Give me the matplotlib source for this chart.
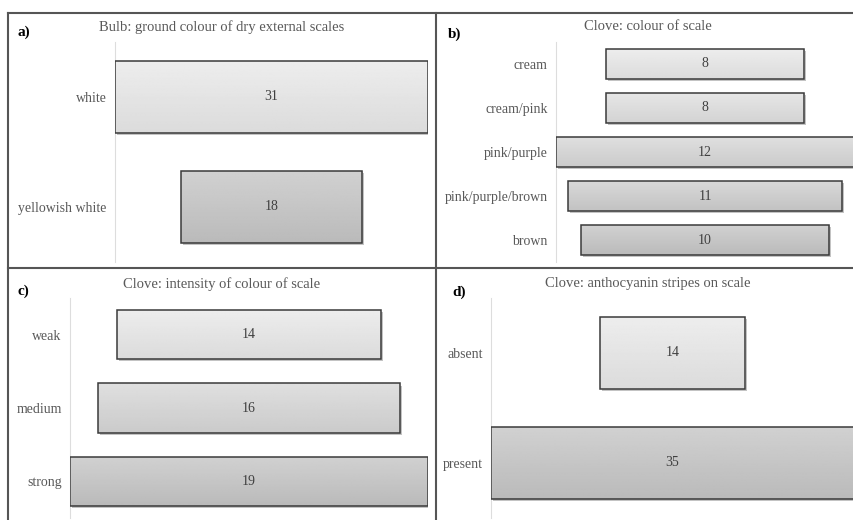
import numpy as np
import matplotlib
matplotlib.use("Agg")
import matplotlib.pyplot as plt
import matplotlib.patheffects as pe
from matplotlib.lines import Line2D

plt.rcParams['font.family'] = ['Liberation Serif', 'DejaVu Serif']

# data
a_labels = ['white', 'yellowish white']
a_values = [31, 18]
b_labels = ['cream', 'cream/pink', 'pink/purple', 'pink/purple/brown', 'brown']
b_values = [8, 8, 12, 11, 10]
c_labels = ['weak', 'medium', 'strong']
c_values = [14, 16, 19]
d_labels = ['absent', 'present']
d_values = [14, 35]

W, H = 854, 520


def box(x0, y0, x1, y1):
    # pixel box (top-left origin) -> figure fraction rect
    return [x0 / W, 1 - y1 / H, (x1 - x0) / W, (y1 - y0) / H]


def funnel(ax, labels, values, height):
    n = len(values)
    y = np.arange(n)
    vmax = max(values)
    lefts = [-v / 2 for v in values]
    bars = ax.barh(y, values, left=lefts, height=height, color='#d0d0d0',
                   edgecolor='none', zorder=1,
                   path_effects=[pe.SimplePatchShadow(offset=(1.5, -1.5), shadow_rgbFace='#888888', alpha=0.5),
                                 pe.Normal()])
    for i, (bar, v) in enumerate(zip(bars, values)):
        t = i / max(n - 1, 1)
        top = 0.93 - 0.11 * t
        bot = 0.86 - 0.13 * t
        grad = np.linspace(top, bot, 64).reshape(-1, 1)
        x0 = bar.get_x()
        y0 = bar.get_y()
        im = ax.imshow(grad, cmap='gray', vmin=0, vmax=1, aspect='auto',
                       extent=[x0, x0 + bar.get_width(), y0 + bar.get_height(), y0],
                       zorder=2, interpolation='bilinear')
        im.set_clip_path(bar)
        ax.text(0, i, str(v), ha='center', va='center', fontsize=10, color='#404040', zorder=4)
    ax.barh(y, values, left=lefts, height=height, fill=False, edgecolor='#3a3a3a',
            linewidth=1.1, zorder=3)
    ax.set_xlim(-vmax / 2, vmax / 2)
    ax.set_ylim(n - 0.5, -0.5)
    ax.set_yticks(y)
    ax.set_yticklabels(labels, fontsize=10, color='#595959')
    ax.tick_params(axis='y', length=0, pad=6)
    ax.set_xticks([])
    for s in ['top', 'right', 'bottom']:
        ax.spines[s].set_visible(False)
    ax.spines['left'].set_color('#dddddd')
    ax.spines['left'].set_linewidth(0.8)


fig = plt.figure(figsize=(W / 100, H / 100), dpi=100)

ax_a = fig.add_axes(box(115, 42, 428, 262))
funnel(ax_a, a_labels, a_values, 0.66)
ax_b = fig.add_axes(box(556, 42, 854, 262))
funnel(ax_b, b_labels, b_values, 0.68)
ax_c = fig.add_axes(box(70, 298, 428, 518))
funnel(ax_c, c_labels, c_values, 0.67)
ax_d = fig.add_axes(box(491, 298, 854, 518))
funnel(ax_d, d_labels, d_values, 0.66)

titles = ['Bulb: ground colour of dry external scales', 'Clove: colour of scale',
          'Clove: intensity of colour of scale', 'Clove: anthocyanin stripes on scale']
title_pos = [(222, 27), (648, 27), (222, 284), (648, 284)]
letters = ['a)', 'b)', 'c)', 'd)']
letter_pos = [(17, 32), (448, 34), (17, 291), (452, 292)]
for t, (x, y) in zip(titles, title_pos):
    fig.text(x / W, 1 - y / H, t, ha='center', va='center', fontsize=10.5, color='#595959')
for t, (x, y) in zip(letters, letter_pos):
    fig.text(x / W, 1 - y / H, t, ha='left', va='center', fontsize=11, fontweight='bold', color='black')

# frame lines
frame = dict(color='#555555', linewidth=1.5, transform=fig.transFigure)
fig.add_artist(Line2D([8 / W, 1], [1 - 13 / H, 1 - 13 / H], **frame))
fig.add_artist(Line2D([8 / W, 8 / W], [1 - 13 / H, 0], **frame))
fig.add_artist(Line2D([436 / W, 436 / W], [1 - 13 / H, 0], **frame))
fig.add_artist(Line2D([8 / W, 1], [1 - 268 / H, 1 - 268 / H], **frame))

fig.savefig('out.png', dpi=100)
